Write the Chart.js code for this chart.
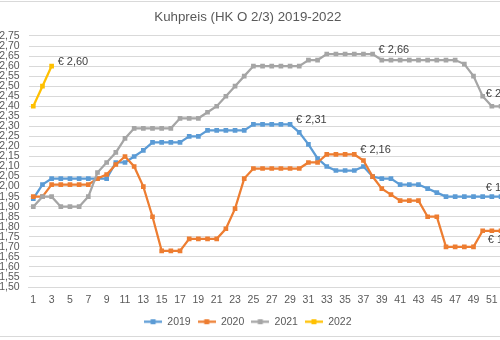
<!DOCTYPE html>
<html>
<head>
<meta charset="utf-8">
<title>Kuhpreis</title>
<script src="https://cdn.jsdelivr.net/npm/chart.js@4"></script>
<style>
  html, body { margin: 0; padding: 0; background: #fff; overflow: hidden; }
  #rahmen {
    position: absolute; left: 0; top: 1px; width: 500px; height: 334px;
    border-top: 1px solid #d9d9d9; border-bottom: 1px solid #d9d9d9;
  }
  #box { position: absolute; left: -10px; top: 0; width: 520px; height: 340px; }
</style>
</head>
<body>
<div id="rahmen"></div>
<div id="box"><canvas id="grafik" width="520" height="340"></canvas></div>
<script>
// Kalenderwochen 1..52
var wochen = [];
for (var w = 1; w <= 52; w++) wochen.push(String(w));

// Preise je Woche (EUR/kg)
var preis2019 = [1.94, 2.01, 2.04, 2.04, 2.04, 2.04, 2.04, 2.04, 2.04, 2.12,
                 2.12, 2.15, 2.18, 2.22, 2.22, 2.22, 2.22, 2.25, 2.25, 2.28,
                 2.28, 2.28, 2.28, 2.28, 2.31, 2.31, 2.31, 2.31, 2.31, 2.27,
                 2.21, 2.14, 2.10, 2.08, 2.08, 2.08, 2.10, 2.05, 2.04, 2.04,
                 2.01, 2.01, 2.01, 1.99, 1.97, 1.95, 1.95, 1.95, 1.95, 1.95,
                 1.95, 1.95];
var preis2020 = [1.95, 1.95, 2.01, 2.01, 2.01, 2.01, 2.01, 2.04, 2.06, 2.11,
                 2.15, 2.10, 2.00, 1.85, 1.68, 1.68, 1.68, 1.74, 1.74, 1.74,
                 1.74, 1.79, 1.89, 2.04, 2.09, 2.09, 2.09, 2.09, 2.09, 2.09,
                 2.12, 2.12, 2.16, 2.16, 2.16, 2.16, 2.13, 2.05, 1.99, 1.96,
                 1.93, 1.93, 1.93, 1.85, 1.85, 1.70, 1.70, 1.70, 1.70, 1.78,
                 1.78, 1.78];
var preis2021 = [1.90, 1.95, 1.95, 1.90, 1.90, 1.90, 1.95, 2.07, 2.12, 2.17,
                 2.24, 2.29, 2.29, 2.29, 2.29, 2.29, 2.34, 2.34, 2.34, 2.37,
                 2.40, 2.45, 2.50, 2.55, 2.60, 2.60, 2.60, 2.60, 2.60, 2.60,
                 2.63, 2.63, 2.66, 2.66, 2.66, 2.66, 2.66, 2.66, 2.63, 2.63,
                 2.63, 2.63, 2.63, 2.63, 2.63, 2.63, 2.63, 2.61, 2.55, 2.45,
                 2.40, 2.40];
var preis2022 = [2.40, 2.50, 2.60];

var jahre = ['2019', '2020', '2021', '2022'];
var farben = ['#5b9bd5', '#ed7d31', '#a5a5a5', '#ffc000'];

// Datenbeschriftungen: Datensatz, Woche (Index), Lage
var beschriftungen = [
    { ds: 3, idx: 2, lage: 'rechts' },
    { ds: 0, idx: 28, lage: 'rechts' },
    { ds: 1, idx: 35, lage: 'rechts' },
    { ds: 2, idx: 37, lage: 'rechts' },
    { ds: 0, idx: 51, lage: 'oben', dy: 9 },
    { ds: 1, idx: 51, lage: 'unten', dy: 9 },
    { ds: 2, idx: 51, lage: 'oben', dy: 12 }
];

var schrift = "'Liberation Sans', Arial, sans-serif";

function euro(v) {
    return '€ ' + v.toFixed(2).replace('.', ',');
}

// Legendensymbol: Linie mit Quadrat
function legendenSymbol(farbe) {
    var c = document.createElement('canvas');
    c.width = 18; c.height = 7;
    var g = c.getContext('2d');
    g.strokeStyle = farbe;
    g.lineWidth = 2.25;
    g.beginPath(); g.moveTo(0, 3.5); g.lineTo(18, 3.5); g.stroke();
    g.fillStyle = farbe;
    g.fillRect(6.5, 1, 5, 5);
    return c;
}

var datenLabelPlugin = {
    id: 'datenLabels',
    afterDatasetsDraw: function(chart) {
        var ctx = chart.ctx;
        ctx.save();
        ctx.font = '11px ' + schrift;
        ctx.fillStyle = '#404040';
        beschriftungen.forEach(function(b) {
            var meta = chart.getDatasetMeta(b.ds);
            var pt = meta.data[b.idx];
            var wert = chart.data.datasets[b.ds].data[b.idx];
            var text = euro(wert);
            ctx.textBaseline = 'middle';
            if (b.lage === 'rechts') {
                ctx.textAlign = 'left';
                ctx.fillText(text, pt.x + 6, pt.y - 4);
            } else if (b.lage === 'oben') {
                ctx.textAlign = 'center';
                ctx.fillText(text, pt.x, pt.y - b.dy);
            } else {
                ctx.textAlign = 'center';
                ctx.fillText(text, pt.x + 2, pt.y + b.dy);
            }
        });
        ctx.restore();
    }
};

var reihen = [preis2019, preis2020, preis2021, preis2022];
var datasets = reihen.map(function(werte, i) {
    return {
        label: jahre[i],
        data: werte,
        borderColor: farben[i],
        backgroundColor: farben[i],
        borderWidth: 2.25,
        pointStyle: 'rect',
        pointRadius: 3.3,
        pointBorderWidth: 0,
        tension: 0,
        order: 4 - i
    };
});

new Chart(document.getElementById('grafik').getContext('2d'), {
    type: 'line',
    data: { labels: wochen, datasets: datasets },
    plugins: [datenLabelPlugin],
    options: {
        responsive: false,
        animation: false,
        devicePixelRatio: 1,
        layout: { padding: { left: 0, right: 4.4, top: 0, bottom: 3 } },
        plugins: {
            title: {
                display: true,
                text: 'Kuhpreis (HK O 2/3) 2019-2022',
                color: '#595959',
                font: { family: schrift, size: 13.3, weight: 'normal' },
                padding: { top: 9, bottom: 11 }
            },
            legend: {
                position: 'bottom',
                labels: {
                    color: '#595959',
                    font: { family: schrift, size: 10.5 },
                    usePointStyle: true,
                    pointStyleWidth: 18,
                    boxWidth: 18,
                    padding: 7,
                    sort: function(a, b) { return a.datasetIndex - b.datasetIndex; },
                    generateLabels: function(chart) {
                        return chart.data.datasets.map(function(ds, i) {
                            return {
                                text: ds.label,
                                datasetIndex: i,
                                fillStyle: ds.borderColor,
                                strokeStyle: ds.borderColor,
                                pointStyle: legendenSymbol(ds.borderColor),
                                fontColor: '#595959',
                                hidden: false,
                                lineWidth: 0
                            };
                        });
                    }
                }
            },
            tooltip: { enabled: false }
        },
        scales: {
            x: {
                offset: true,
                grid: { display: false, drawTicks: false },
                border: { display: true, color: '#d9d9d9' },
                ticks: {
                    autoSkip: false,
                    maxRotation: 0,
                    padding: 7,
                    color: '#595959',
                    font: { family: schrift, size: 10.5 },
                    callback: function(val, idx) {
                        return idx % 2 === 0 ? this.getLabelForValue(val) : '';
                    }
                },
                afterFit: function(scale) { scale.height = 22.5; }
            },
            y: {
                min: 1.5,
                max: 2.75,
                grid: { color: '#d9d9d9', drawTicks: false },
                border: { display: false },
                ticks: {
                    stepSize: 0.05,
                    autoSkip: false,
                    padding: 9,
                    color: '#595959',
                    font: { family: schrift, size: 10.5 },
                    callback: function(v) { return v.toFixed(2).replace('.', ','); }
                },
                afterFit: function(scale) { scale.width = 38.7; }
            }
        }
    }
});
</script>
</body>
</html>
